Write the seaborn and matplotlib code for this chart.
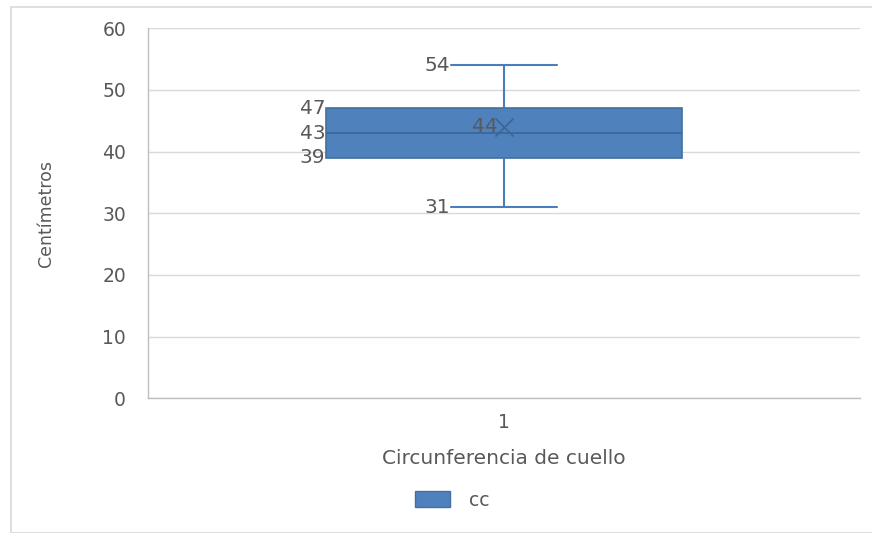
import matplotlib
matplotlib.use("Agg")
import matplotlib.pyplot as plt
from matplotlib.patches import Patch, Rectangle
import seaborn as sns

# valores (mín, Q1, mediana, Q3, máx)
valores_cc = [31, 39, 43, 47, 54]
media_cc = 44
categoria = "1"
serie = "cc"
titulo_x = "Circunferencia de cuello"
titulo_y = "Centímetros"
yticks = [0, 10, 20, 30, 40, 50, 60]

azul = "#4F81BD"
borde = "#41719C"
gris = "#595959"

sns.set_theme(style="white")
plt.rcParams["font.family"] = ["DejaVu Sans"]

fig = plt.figure(figsize=(8.72, 5.33), dpi=100)
ax = fig.add_axes([0.170, 0.253, 0.816, 0.694])

# marco exterior del gráfico
fig.patches.append(Rectangle((11 / 872, 0), 1, 1 - 7 / 533, transform=fig.transFigure,
                             fill=False, edgecolor="#D9D9D9", linewidth=1.2))

sns.boxplot(y=valores_cc, ax=ax, width=0.5, whis=1.5, color=azul, saturation=1,
            linecolor=borde, linewidth=1.2, showfliers=False,
            capwidths=0.148,
            boxprops=dict(facecolor=azul, edgecolor=borde),
            whiskerprops=dict(color="#4A7EBB", linewidth=1.5),
            capprops=dict(color="#4A7EBB", linewidth=1.5),
            medianprops=dict(color="#3A6596", linewidth=1.2))

ax.scatter([0], [media_cc], marker="x", s=170, color="#3A6596", linewidths=1.2, zorder=5)

# etiquetas de datos
mn, q1, med, q3, mx = valores_cc
kw = dict(fontsize=14.5, color=gris, va="center", ha="right")
ax.annotate(str(mx), (0, mx), xytext=(-54, 0), textcoords="offset pixels", **kw)
ax.annotate(str(mn), (0, mn), xytext=(-54, 0), textcoords="offset pixels", **kw)
ax.annotate(str(q3), (-0.25, q3), xytext=(-1, 0), textcoords="offset pixels", **kw)
ax.annotate(str(med), (-0.25, med), xytext=(-1, 0), textcoords="offset pixels", **kw)
ax.annotate(str(q1), (-0.25, q1), xytext=(-1, 0), textcoords="offset pixels", **kw)
ax.annotate(str(media_cc), (0, media_cc), xytext=(-6, 0), textcoords="offset pixels", **kw)

ax.set_ylim(0, 60)
ax.set_xlim(-0.5, 0.5)
ax.set_yticks(yticks)
ax.set_xticks([0])
ax.set_xticklabels([categoria])
ax.tick_params(axis="both", length=0, labelsize=13.5, labelcolor=gris)
ax.tick_params(axis="y", pad=16)
ax.tick_params(axis="x", pad=11)
ax.yaxis.grid(True, color="#D9D9D9", linewidth=1)
ax.set_axisbelow(True)
for s in ["top", "right"]:
    ax.spines[s].set_visible(False)
for s in ["left", "bottom"]:
    ax.spines[s].set_color("#BFBFBF")
    ax.spines[s].set_linewidth(1)

ax.set_xlabel(titulo_x, fontsize=14.5, color=gris, labelpad=12)
ax.set_ylabel(titulo_y, fontsize=12.5, color=gris, labelpad=34)

fig.legend(handles=[Patch(facecolor=azul, edgecolor=borde, label=serie)],
           loc="center", bbox_to_anchor=(452 / 872, 1 - 500 / 533), frameon=False,
           fontsize=13.5, labelcolor=gris, handlelength=1.9, handleheight=1.0,
           handletextpad=1.0)

fig.savefig("out.png", dpi=100, facecolor="white")
